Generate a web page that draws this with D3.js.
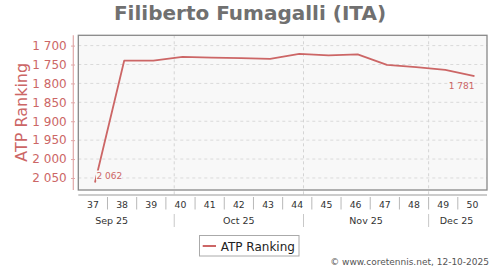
<!DOCTYPE html>
<html><head><meta charset="utf-8">
<script src="https://cdn.jsdelivr.net/npm/d3@7"></script>
<style>
body{margin:0;background:#fff;}
svg{display:block;font-family:"DejaVu Sans",sans-serif;}
</style></head>
<body><svg id="c" width="500" height="270"></svg>
<script>
const title = "Filiberto Fumagalli (ITA)";
const seriesName = "ATP Ranking";
const weeks = [37,38,39,40,41,42,43,44,45,46,47,48,49,50];
const ranking = [2062,1740,1740,1730,1732,1733,1735,1722,1726,1723,1751,1757,1764,1781];
const yTicks = [1700,1750,1800,1850,1900,1950,2000,2050];
const monthNames = ["Sep 25","Oct 25","Nov 25","Dec 25"];
const footer = "\u00A9 www.coretennis.net, 12-10-2025";

const red = "#cc6666";
const svg = d3.select("#c");
const L = 78.3, R = 487, T = 35.3, B = 190;

// ISO week Monday for 2025
const week1Monday = new Date(2024, 11, 30);
const mondayOf = w => d3.timeDay.offset(week1Monday, (w - 1) * 7);
const x = d3.scaleTime().domain([new Date(2025,8,8), new Date(2025,11,15)]).range([L, R]);
const y = d3.scaleLinear().domain([1672.8, 2081.8]).range([T, B]);

const fmt = d3.formatLocale({decimal:".", thousands:" ", grouping:[3], currency:["",""]}).format(",d");

// title
svg.append("text").attr("x",250).attr("y",19.5).attr("text-anchor","middle")
  .attr("font-size",20).attr("font-weight","bold").attr("fill","#707070").text(title);

// plot bg
svg.append("rect").attr("x",L).attr("y",T).attr("width",R-L).attr("height",B-T).attr("fill","#f8f8f8");

// horizontal grid
svg.append("g").selectAll("line").data(yTicks).join("line")
  .attr("x1",L).attr("x2",R).attr("y1",d=>y(d)).attr("y2",d=>y(d))
  .attr("stroke","#dadada").attr("stroke-dasharray","3,3");

// month boundaries
const months = d3.timeMonth.range(new Date(2025,8,1), new Date(2026,0,1));
const bounds = months.slice(1);
svg.append("g").selectAll("line").data(bounds).join("line")
  .attr("x1",d=>x(d)).attr("x2",d=>x(d)).attr("y1",T).attr("y2",197)
  .attr("stroke","#d4d4d4").attr("stroke-dasharray","3,3");

// border
svg.append("rect").attr("x",L).attr("y",T).attr("width",R-L).attr("height",B-T)
  .attr("fill","none").attr("stroke","#888").attr("stroke-width",1.3);

// y axis
const yAxis = d3.axisLeft(y).tickValues(yTicks).tickFormat(fmt).tickSize(4).tickPadding(5);
const gy = svg.append("g").attr("transform","translate(75,0)").call(yAxis);
gy.select(".domain").remove();
gy.selectAll(".tick line").attr("stroke","#e0a8a8");
gy.selectAll(".tick text").attr("font-size",12).attr("fill",red).attr("font-family","DejaVu Sans").attr("x",-8.3);
svg.append("line").attr("x1",73.3).attr("x2",73.3).attr("y1",T).attr("y2",B).attr("stroke","#e0a8a8").attr("stroke-width",1.2);

svg.append("text").attr("transform",`translate(27,112.3) rotate(-90)`).attr("text-anchor","middle")
  .attr("font-size",16).attr("fill",red).text(seriesName);

// x axis
svg.append("line").attr("x1",L).attr("x2",R).attr("y1",195).attr("y2",195).attr("stroke","#999").attr("stroke-width",1.2);
const weekBounds = weeks.slice(1).map(mondayOf);
svg.append("g").selectAll("line").data(weekBounds).join("line")
  .attr("x1",d=>x(d)).attr("x2",d=>x(d)).attr("y1",197).attr("y2",209.5)
  .attr("stroke","#b8b8b8");
svg.append("g").selectAll("text").data(weeks).join("text")
  .attr("x",w=>x(d3.timeHour.offset(mondayOf(w),84))).attr("y",207.7)
  .attr("text-anchor","middle").attr("font-size",9.3).attr("fill","#333").text(w=>w);
svg.append("g").selectAll("line").data(bounds).join("line")
  .attr("x1",d=>x(d)).attr("x2",d=>x(d)).attr("y1",214).attr("y2",227)
  .attr("stroke","#c8c8c8");
svg.append("g").selectAll("text").data(months).join("text")
  .attr("x",(d,i)=>{
    const c = (x(d) + x(d3.timeMonth.offset(d,1)))/2;
    const hw = 16.5, pad = 14;
    return Math.max(L+hw+pad, Math.min(R-hw-pad, c));
  })
  .attr("y",223.5).attr("text-anchor","middle").attr("font-size",9.5).attr("fill","#333")
  .text((d,i)=>monthNames[i]);

// line
const pts = weeks.map((w,i)=>({date:d3.timeDay.offset(mondayOf(w),4), v:ranking[i]}));
svg.append("path").datum(pts)
  .attr("d",d3.line().x(d=>x(d.date)).y(d=>y(d.v)))
  .attr("fill","none").attr("stroke",red).attr("stroke-width",1.8).attr("stroke-linejoin","round");

// data labels
const first = pts[0], last = pts[pts.length-1];
const fl = svg.append("g");
const fx = x(first.date)+1.5, fy = y(first.v)-3.5;
fl.append("rect").attr("x",fx-0.5).attr("y",fy-8.5).attr("width",26).attr("height",10).attr("fill","#f8f8f8");
fl.append("text").attr("x",fx).attr("y",fy).attr("font-size",9).attr("fill",red).text(fmt(first.v));
svg.append("text").attr("x",x(last.date)).attr("y",y(last.v)+12.5).attr("text-anchor","end")
  .attr("font-size",9).attr("fill",red).text(fmt(last.v));

// legend
svg.append("rect").attr("x",199.5).attr("y",235.5).attr("width",99.5).attr("height",20.5)
  .attr("fill","#fff").attr("stroke","#aaa");
svg.append("line").attr("x1",202.7).attr("x2",216).attr("y1",246).attr("y2",246).attr("stroke",red).attr("stroke-width",2);
svg.append("text").attr("x",220.7).attr("y",250.5).attr("font-size",12).attr("fill","#222").text(seriesName);

// footer
svg.append("text").attr("x",489).attr("y",264.5).attr("text-anchor","end").attr("font-size",9).attr("fill","#555").text(footer);
</script></body></html>
